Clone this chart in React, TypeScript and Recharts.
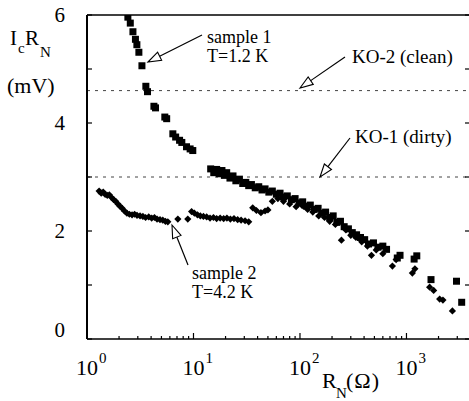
import React from 'react';
import { ScatterChart, Scatter, XAxis, YAxis, ReferenceLine } from 'recharts';

// sample 1, T = 1.2 K (squares)
const sample1R = [
  2.42, 2.55, 2.7, 2.85, 2.94, 3.07, 3.28, 3.57, 3.7, 4.25, 4.4, 5.38, 5.6, 6.4, 6.8, 7.4, 7.77, 8.6, 9.3, 9.85,
  14.5, 15.5, 16.5, 17.5, 18.5, 19.5, 20.5, 22, 23.5, 25, 27, 29, 31, 33, 35, 38, 41, 44, 47, 51, 55, 60, 65, 70,
  76, 83, 90, 98, 106, 115, 125, 136, 148, 160, 174, 190, 205, 222, 240, 260, 285, 310, 340, 370, 405, 440, 490,
  540, 600, 650, 820, 870, 1180, 1250, 1700, 2950, 3300,
];
const sample1V = [
  5.96, 5.85, 5.69, 5.55, 5.45, 5.31, 5.06, 4.68, 4.58, 4.31, 4.28, 4.11, 4.08, 3.8, 3.74, 3.68, 3.64, 3.56, 3.52, 3.49,
  3.15, 3.08, 3.14, 3.06, 3.12, 3.03, 3.08, 2.98, 3.02, 2.93, 2.96, 2.88, 2.9, 2.84, 2.86, 2.8, 2.82, 2.76, 2.78, 2.72,
  2.74, 2.68, 2.7, 2.63, 2.65, 2.58, 2.6, 2.52, 2.54, 2.46, 2.48, 2.4, 2.42, 2.33, 2.35, 2.25, 2.28, 2.16, 2.18, 2.08,
  2.04, 1.97, 1.93, 1.88, 1.84, 1.76, 1.78, 1.7, 1.72, 1.66, 1.5, 1.55, 1.48, 1.54, 1.1, 1.07, 0.68,
];

// sample 2, T = 4.2 K (diamonds)
const sample2R = [
  1.3, 1.36, 1.42, 1.48, 1.55, 1.62, 1.7, 1.78, 1.86, 1.95, 2.04, 2.14, 2.25, 2.37, 2.5, 2.65, 2.8, 2.95, 3.15, 3.35,
  3.55, 3.8, 4.05, 4.3, 4.55, 4.85, 5.15, 5.45, 5.74, 7.13, 8.84, 9.6, 10.2, 10.9, 11.6, 12.4, 13.3, 14.3, 15.4, 16.5,
  17.8, 19.2, 20.6, 22.2, 24, 26, 28, 30.5, 33, 36, 39, 43, 47, 50, 55, 62, 70, 80, 92, 105, 118, 132, 150, 170, 190,
  215, 245, 270, 300, 335, 380, 430, 469, 520, 600, 738, 800, 1136, 1200, 1650, 1800, 2050, 2200, 2700,
];
const sample2V = [
  2.74, 2.7, 2.72, 2.68, 2.66, 2.67, 2.62, 2.58, 2.55, 2.5, 2.46, 2.42, 2.37, 2.33, 2.31, 2.3, 2.31, 2.29, 2.28, 2.27,
  2.25, 2.26, 2.24, 2.25, 2.22, 2.21, 2.2, 2.18, 2.17, 2.22, 2.22, 2.36, 2.33, 2.3, 2.28, 2.27, 2.26, 2.24, 2.25, 2.23,
  2.24, 2.23, 2.24, 2.22, 2.23, 2.21, 2.2, 2.19, 2.17, 2.43, 2.38, 2.34, 2.37, 2.39, 2.55, 2.6, 2.55, 2.5, 2.45, 2.47,
  2.4, 2.35, 2.28, 2.25, 2.18, 2.12, 1.83, 2.02, 1.92, 1.88, 1.8, 1.72, 1.55, 1.65, 1.58, 1.35, 1.47, 1.22, 1.3, 0.96,
  0.9, 0.74, 0.72, 0.52,
];

const koClean = 4.6;
const koDirty = 3.0;

const xTicks = [
  1, 2, 3, 4, 5, 6, 7, 8, 9, 10, 20, 30, 40, 50, 60, 70, 80, 90, 100, 200, 300, 400, 500, 600, 700, 800, 900, 1000,
  2000, 3000,
];
const yTicks = [0, 1, 2, 3, 4, 5, 6];
const yLabels = [0, 2, 4, 6];

const data1 = sample1R.map((r, i) => ({ r, v: sample1V[i] }));
const data2 = sample2R.map((r, i) => ({ r, v: sample2V[i] }));

const FONT = '"Liberation Serif", "DejaVu Serif", "Times New Roman", Times, serif';
const txt = { fontFamily: FONT, fill: '#000' };

const isDecade = (v: number) => Math.abs(Math.log10(v) - Math.round(Math.log10(v))) < 1e-6;

const BottomTick = (props: any) => {
  const { x, y, payload } = props;
  const major = isDecade(payload.value);
  const exp = Math.round(Math.log10(payload.value));
  return (
    <g>
      <line x1={x} x2={x} y1={y} y2={y - (major ? 6 : 3)} stroke="#000" strokeWidth={1.2} />
      {major && (
        <text x={x} y={y + 36} textAnchor="middle" fontSize={22} style={txt}>
          10
        </text>
      )}
      {major && (
        <text x={x + 12} y={y + 24} fontSize={15} style={txt}>
          {exp}
        </text>
      )}
    </g>
  );
};

const TopTick = (props: any) => {
  const { x, y, payload } = props;
  const major = isDecade(payload.value);
  return <line x1={x} x2={x} y1={y} y2={y + (major ? 6 : 3)} stroke="#000" strokeWidth={1.2} />;
};

const LeftTick = (props: any) => {
  const { x, y, payload } = props;
  const v = payload.value;
  return (
    <g>
      <line x1={x} x2={x + 5} y1={y} y2={y} stroke="#000" strokeWidth={1.2} />
      {yLabels.includes(v) && (
        <text x={x - 22} y={v === 0 ? y - 2 : y + 7} textAnchor="end" fontSize={21} style={txt}>
          {v}
        </text>
      )}
    </g>
  );
};

const RightTick = (props: any) => {
  const { x, y } = props;
  return <line x1={x} x2={x - 5} y1={y} y2={y} stroke="#000" strokeWidth={1.2} />;
};

const SquareMark = (props: any) => {
  const { cx, cy } = props;
  return <rect x={cx - 3.5} y={cy - 3.5} width={7} height={7} fill="#000" />;
};

const DiamondMark = (props: any) => {
  const { cx, cy } = props;
  const s = 3.6;
  return <polygon points={`${cx},${cy - s} ${cx + s},${cy} ${cx},${cy + s} ${cx - s},${cy}`} fill="#000" />;
};

function Arrow({ x1, y1, x2, y2 }: { x1: number; y1: number; x2: number; y2: number }) {
  const dx = x2 - x1;
  const dy = y2 - y1;
  const len = Math.sqrt(dx * dx + dy * dy);
  const ux = dx / len;
  const uy = dy / len;
  const hl = 13;
  const hw = 4.5;
  const bx = x2 - ux * hl;
  const by = y2 - uy * hl;
  const pts = `${x2},${y2} ${bx - uy * hw},${by + ux * hw} ${bx + uy * hw},${by - ux * hw}`;
  return (
    <g>
      <line x1={x1} y1={y1} x2={bx} y2={by} stroke="#000" strokeWidth={1.2} />
      <polygon points={pts} fill="#fff" stroke="#000" strokeWidth={1.1} />
    </g>
  );
}

export default function App() {
  return (
    <div
      style={{
        position: 'absolute',
        left: 0,
        top: 0,
        width: 469,
        height: 401,
        overflow: 'hidden',
        background: '#fff',
        fontFamily: FONT,
      }}
    >
      <ScatterChart width={472} height={401} margin={{ top: 14, right: 1, bottom: 61, left: 86 }}>
        <XAxis
          dataKey="r"
          type="number"
          scale="log"
          domain={[1, 3950]}
          allowDataOverflow
          ticks={xTicks}
          interval={0}
          height={1}
          tickSize={0}
          tickMargin={0}
          tickLine={false}
          tick={<BottomTick />}
          axisLine={{ stroke: '#000', strokeWidth: 1.6 }}
        />
        <XAxis
          xAxisId="top"
          orientation="top"
          type="number"
          scale="log"
          domain={[1, 3950]}
          allowDataOverflow
          ticks={xTicks}
          interval={0}
          height={1}
          tickSize={0}
          tickMargin={0}
          tickLine={false}
          tick={<TopTick />}
          axisLine={{ stroke: '#000', strokeWidth: 1.4 }}
        />
        <YAxis
          dataKey="v"
          type="number"
          domain={[0, 6]}
          allowDataOverflow
          ticks={yTicks}
          interval={0}
          width={1}
          tickSize={0}
          tickMargin={0}
          tickLine={false}
          tick={<LeftTick />}
          axisLine={{ stroke: '#000', strokeWidth: 2 }}
        />
        <YAxis
          yAxisId="right"
          orientation="right"
          type="number"
          domain={[0, 6]}
          allowDataOverflow
          ticks={yTicks}
          interval={0}
          width={1}
          tickSize={0}
          tickMargin={0}
          tickLine={false}
          tick={<RightTick />}
          axisLine={{ stroke: '#000', strokeWidth: 1.4 }}
        />
        <ReferenceLine y={koClean} stroke="#444" strokeWidth={1} strokeDasharray="3 5" />
        <ReferenceLine y={koDirty} stroke="#444" strokeWidth={1} strokeDasharray="3 5" />
        <Scatter name="sample 2" data={data2} shape={DiamondMark} isAnimationActive={false} />
        <Scatter name="sample 1" data={data1} shape={SquareMark} isAnimationActive={false} />
      </ScatterChart>
      <svg width={469} height={401} style={{ position: 'absolute', left: 0, top: 0, pointerEvents: 'none' }}>
        {/* y axis title */}
        <text x={10} y={45} fontSize={21} style={txt}>I</text>
        <text x={18} y={53} fontSize={15} style={txt}>c</text>
        <text x={25} y={45} fontSize={21} style={txt}>R</text>
        <text x={40} y={57} fontSize={15} style={txt}>N</text>
        <text x={7} y={93} fontSize={22} style={txt}>(mV)</text>
        {/* x axis title */}
        <text x={322} y={388} fontSize={22} style={txt}>R</text>
        <text x={336} y={398} fontSize={15} style={txt}>N</text>
        <text x={346} y={388} fontSize={22} letterSpacing={1} style={txt}>(Ω)</text>
        {/* annotations */}
        <text x={207} y={43} fontSize={18} style={txt}>sample 1</text>
        <text x={207} y={62} fontSize={18} style={txt}>T=1.2 K</text>
        <Arrow x1={202} y1={35} x2={148} y2={62} />
        <text x={352} y={63} fontSize={19} style={txt}>KO-2 (clean)</text>
        <Arrow x1={345} y1={57} x2={300} y2={88} />
        <text x={355} y={143} fontSize={19} style={txt}>KO-1 (dirty)</text>
        <Arrow x1={350} y1={138} x2={320} y2={177} />
        <text x={192} y={279} fontSize={18} style={txt}>sample 2</text>
        <text x={192} y={298} fontSize={18} style={txt}>T=4.2 K</text>
        <Arrow x1={188} y1={265} x2={172} y2={225} />
      </svg>
    </div>
  );
}
